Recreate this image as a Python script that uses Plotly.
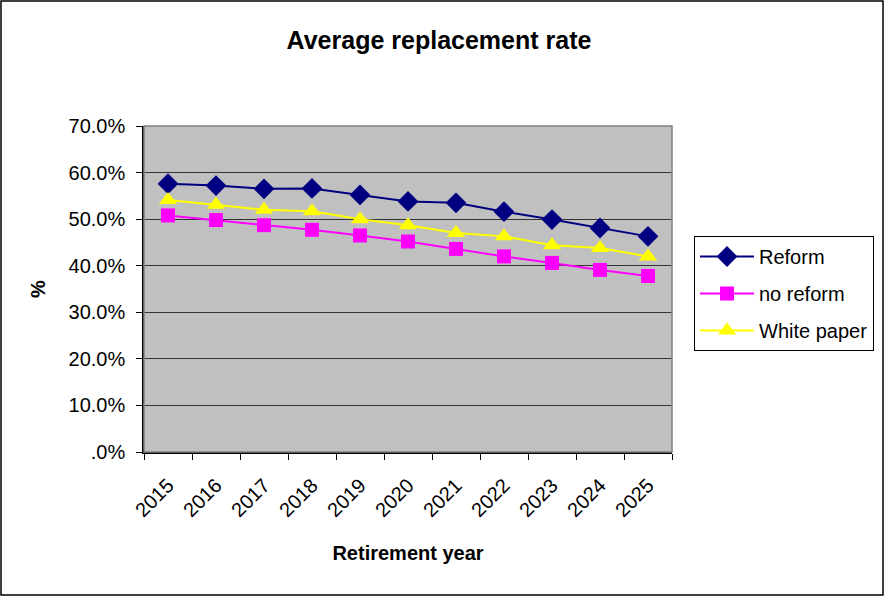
import plotly.graph_objects as go

years = ["2015", "2016", "2017", "2018", "2019", "2020", "2021", "2022", "2023", "2024", "2025"]
reform = [0.576, 0.572, 0.565, 0.566, 0.552, 0.538, 0.535, 0.516, 0.499, 0.481, 0.463]
no_reform = [0.508, 0.498, 0.487, 0.477, 0.465, 0.452, 0.436, 0.420, 0.406, 0.391, 0.378]
white_paper = [0.541, 0.531, 0.520, 0.517, 0.500, 0.487, 0.470, 0.463, 0.444, 0.438, 0.420]

y_ticks = [0, 0.1, 0.2, 0.3, 0.4, 0.5, 0.6, 0.7]
y_tick_text = [".0%", "10.0%", "20.0%", "30.0%", "40.0%", "50.0%", "60.0%", "70.0%"]

FONT = "Liberation Sans, Arial, sans-serif"

fig = go.Figure()
fig.add_trace(go.Scatter(
    x=years, y=reform, name="Reform", mode="lines+markers", legendgroup="a",
    line=dict(color="#000080", width=2),
    marker=dict(symbol="diamond", size=16, color="#000080"),
))
fig.add_trace(go.Scatter(
    x=years, y=no_reform, name="no reform", mode="lines+markers", legendgroup="b",
    line=dict(color="#FF00FF", width=2),
    marker=dict(symbol="square", size=14, color="#FF00FF"),
))
fig.add_trace(go.Scatter(
    x=years, y=white_paper, name="White paper", mode="lines+markers", legendgroup="c",
    line=dict(color="#FFFF00", width=2),
    marker=dict(symbol="triangle-up", size=16, color="#FFFF00"),
))

# outer frame of the chart
fig.add_shape(type="rect", xref="paper", yref="paper",
              x0=(1.0 - 144) / 528, x1=(883.0 - 144) / 528,
              y0=(452 - 595.0) / 326, y1=(452 - 1.0) / 326,
              line=dict(color="#000000", width=1.5), layer="below")
# plot area border (top and right)
fig.add_shape(type="rect", xref="paper", yref="paper", x0=0, x1=1, y0=0, y1=1,
              line=dict(color="#808080", width=1.5), layer="above")

fig.update_layout(
    width=884, height=596,
    margin=dict(l=144, r=212, t=126, b=144, autoexpand=False),
    paper_bgcolor="white",
    plot_bgcolor="#C0C0C0",
    font=dict(family=FONT, size=20, color="#000000"),
    title=dict(text="<b>Average replacement rate</b>", x=439 / 884, xanchor="center",
               y=1 - 40 / 596, yanchor="middle", yref="container",
               font=dict(family=FONT, size=25, color="#000000")),
    showlegend=True,
    legend=dict(x=(694 - 144) / 528, xanchor="left", y=(452 - 236) / 326, yanchor="top",
                bordercolor="#000000", borderwidth=1, bgcolor="white",
                font=dict(family=FONT, size=20), traceorder="grouped", tracegroupgap=8,
                itemwidth=54),
)

fig.update_xaxes(
    type="category", range=[-0.5, 10.5], tickson="boundaries", tickangle=-45,
    ticks="outside", ticklen=6, tickcolor="#000000",
    showline=True, linecolor="#000000", linewidth=1.5,
    showgrid=False, zeroline=False, ticklabelstandoff=12, automargin=False,
    tickfont=dict(family=FONT, size=20),
    title=dict(text="<b>Retirement year</b>", font=dict(family=FONT, size=20), standoff=26),
)
fig.update_yaxes(
    range=[0, 0.7], tickvals=y_ticks, ticktext=y_tick_text,
    ticks="outside", ticklen=6, tickcolor="#000000",
    showline=True, linecolor="#000000", linewidth=1.5,
    showgrid=True, gridcolor="#333333", gridwidth=1, zeroline=False,
    ticklabelstandoff=7, automargin=False,
    tickfont=dict(family=FONT, size=20),
    title=dict(text="<b>%</b>", font=dict(family=FONT, size=20), standoff=18),
)

fig.write_html("out.html")
